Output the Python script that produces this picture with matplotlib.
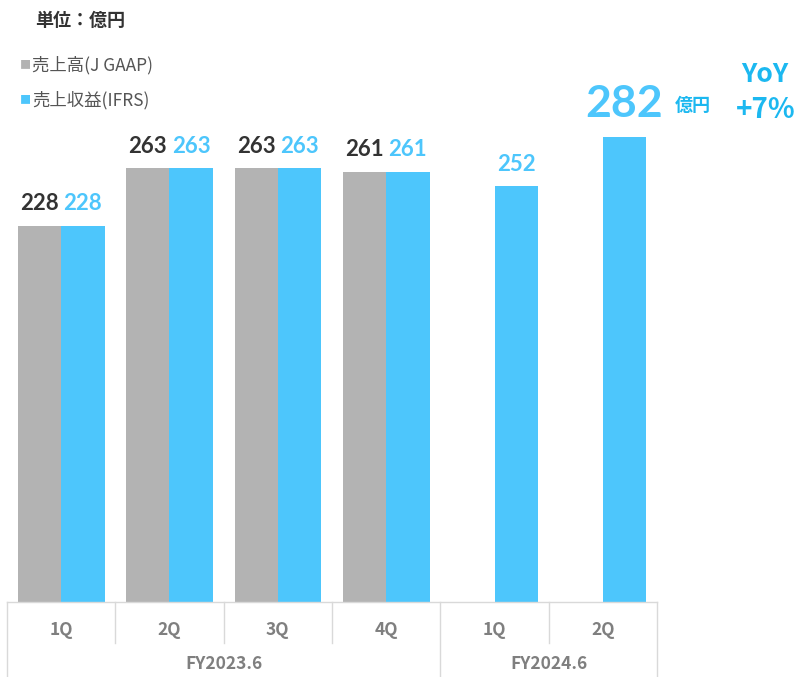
import numpy as np
import matplotlib.pyplot as plt
from matplotlib.lines import Line2D

plt.rcParams['font.family'] = ['Noto Sans CJK JP', 'DejaVu Sans']

# data
quarters = ['1Q', '2Q', '3Q', '4Q', '1Q', '2Q']
years = ['FY2023.6', 'FY2024.6']
year_spans = [(0, 4), (4, 6)]
jgaap = [228, 263, 263, 261, None, None]
ifrs = [228, 263, 263, 261, 252, 282]

gray = '#b3b3b3'
blue = '#4dc6fc'
dark = '#333333'
line_col = '#d9d9d9'
num_font = ['Lato', 'DejaVu Sans']

W, H = 802, 677
fig = plt.figure(figsize=(W / 100, H / 100), dpi=100)

left, right, base = 7, 657, 602
ax = fig.add_axes([left / W, (H - base) / H, (right - left) / W, base / H])
ax.set_xlim(-0.5, len(quarters) - 0.5)
ax.set_ylim(0, base / 1.649)
ax.axis('off')

x = np.arange(len(quarters))
bw = 0.40
for i in range(len(quarters)):
    if jgaap[i] is not None:
        ax.bar(x[i] - bw / 2, jgaap[i], bw, color=gray)
        ax.bar(x[i] + bw / 2, ifrs[i], bw, color=blue)
        ax.text(x[i] - bw / 2, jgaap[i] + 7, str(jgaap[i]), ha='center', va='bottom',
                fontsize=16, fontweight='bold', color=dark, family=num_font)
        ax.text(x[i] + bw / 2, ifrs[i] + 7, str(ifrs[i]), ha='center', va='bottom',
                fontsize=16, fontweight='bold', color=blue, family=num_font)
    else:
        ax.bar(x[i] + bw / 2, ifrs[i], bw, color=blue)

# labels for FY2024.6
ax.text(x[4] + bw / 2, ifrs[4] + 7, str(ifrs[4]), ha='center', va='bottom',
        fontsize=16, fontweight='bold', color=blue, family=num_font)
ax.text(x[5] + bw / 2, ifrs[5] + 8, str(ifrs[5]), ha='center', va='bottom',
        fontsize=32, fontweight='bold', color=blue, family=num_font)
fig.text(693 / W, 1 - 105 / H, '億円', ha='center', va='center',
         fontsize=13, fontweight='bold', color='#1cb8f0')
fig.text(765 / W, 1 - 75 / H, 'YoY', ha='center', va='center',
         fontsize=19, fontweight='bold', color='#1cb8f0')
fig.text(766 / W, 1 - 110 / H, '+7%', ha='center', va='center',
         fontsize=20, fontweight='bold', color='#1cb8f0')

# category table below the axis
def fx(px):
    return px / W

def fy(py):
    return 1 - py / H

step = (right - left) / len(quarters)
fig.add_artist(Line2D([fx(left), fx(right)], [fy(base), fy(base)], color=line_col, lw=1))
for k in range(len(quarters) + 1):
    xp = left + k * step
    full = k in (0, 4, 6)
    fig.add_artist(Line2D([fx(xp), fx(xp)], [fy(base), fy(H if full else 643)],
                          color=line_col, lw=1))
for i, q in enumerate(quarters):
    fig.text(fx(left + (i + 0.5) * step), fy(630), q, ha='center', va='center',
             fontsize=12.5, fontweight='bold', color='#7f7f7f')
for yr, (a, b) in zip(years, year_spans):
    fig.text(fx(left + (a + b) / 2 * step), fy(664), yr, ha='center', va='center',
             fontsize=12.5, fontweight='bold', color='#7f7f7f')

# title and legend
fig.text(35 / W, fy(20), '単位：億円', ha='left', va='center',
         fontsize=13, fontweight='bold', color='#333333')
fig.text(20 / W, fy(65), '■', ha='left', va='center', fontsize=8, color=gray)
fig.text(32 / W, fy(65), '売上高(J GAAP)', ha='left', va='center', fontsize=12.5, color='#555555')
fig.text(20 / W, fy(100), '■', ha='left', va='center', fontsize=8, color=blue)
fig.text(32 / W, fy(100), '売上収益(IFRS)', ha='left', va='center', fontsize=12.5, color='#555555')

fig.savefig('out.png', dpi=100)
